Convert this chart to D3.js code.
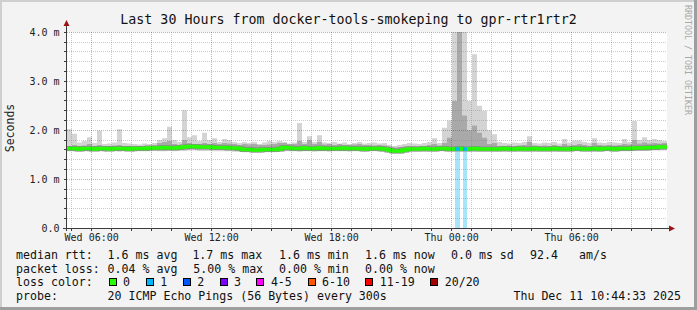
<!DOCTYPE html>
<html>
<head>
<meta charset="utf-8">
<script src="https://cdn.jsdelivr.net/npm/d3@7"></script>
<style>
  body { margin: 0; background: #f3f3f3; }
  svg { display: block; font-family: "DejaVu Sans Mono", monospace; }
</style>
</head>
<body>
<div id="chart"></div>
<script>
// --- data (ms), one value per 15 minutes ---
const startTime = Date.UTC(2025, 11, 10, 4, 46);
const endTime = Date.UTC(2025, 11, 11, 10, 46);
const stepMinutes = 15;

const medianRtt = [
  1.63,1.63,1.62,1.63,1.63,1.62,1.63,1.63,1.62,1.63,
  1.63,1.63,1.62,1.63,1.63,1.63,1.64,1.64,1.64,1.65,
  1.64,1.64,1.65,1.66,1.67,1.67,1.66,1.66,1.66,1.65,
  1.65,1.65,1.64,1.64,1.63,1.61,1.61,1.60,1.60,1.61,
  1.61,1.61,1.62,1.65,1.64,1.63,1.63,1.64,1.63,1.63,
  1.64,1.63,1.63,1.63,1.63,1.64,1.63,1.63,1.63,1.62,
  1.63,1.63,1.63,1.62,1.60,1.58,1.58,1.60,1.62,1.62,
  1.62,1.63,1.62,1.62,1.63,1.63,1.62,1.62,1.63,1.62,
  1.62,1.63,1.62,1.62,1.62,1.62,1.62,1.63,1.62,1.62,
  1.63,1.62,1.62,1.63,1.62,1.62,1.62,1.63,1.62,1.62,
  1.62,1.63,1.63,1.62,1.62,1.63,1.62,1.63,1.63,1.62,
  1.63,1.63,1.63,1.64,1.64,1.64,1.65,1.65,1.66,1.66
];

const smokeLow = [
  1.57,1.57,1.56,1.57,1.56,1.57,1.57,1.56,1.57,1.57,
  1.56,1.57,1.57,1.56,1.57,1.57,1.57,1.58,1.57,1.57,
  1.58,1.57,1.58,1.58,1.59,1.59,1.58,1.58,1.58,1.57,
  1.57,1.57,1.57,1.56,1.56,1.55,1.55,1.54,1.54,1.55,
  1.55,1.55,1.56,1.57,1.57,1.57,1.56,1.57,1.57,1.56,
  1.57,1.57,1.56,1.57,1.57,1.57,1.56,1.57,1.57,1.56,
  1.57,1.57,1.56,1.56,1.54,1.52,1.52,1.54,1.56,1.56,
  1.56,1.57,1.56,1.56,1.57,1.57,1.56,1.56,1.57,1.56,
  1.56,1.57,1.56,1.56,1.56,1.56,1.56,1.57,1.56,1.56,
  1.57,1.56,1.56,1.57,1.56,1.56,1.56,1.57,1.56,1.56,
  1.56,1.57,1.57,1.56,1.56,1.57,1.56,1.57,1.57,1.56,
  1.57,1.57,1.57,1.58,1.58,1.58,1.58,1.59,1.59,1.59
];

const smokeQ1 = [
  1.60,1.60,1.59,1.60,1.60,1.59,1.60,1.60,1.59,1.60,
  1.60,1.60,1.59,1.60,1.60,1.60,1.61,1.61,1.61,1.62,
  1.61,1.61,1.62,1.63,1.64,1.64,1.63,1.63,1.63,1.62,
  1.62,1.62,1.61,1.61,1.60,1.58,1.58,1.57,1.57,1.58,
  1.58,1.58,1.59,1.62,1.61,1.60,1.60,1.61,1.60,1.60,
  1.61,1.60,1.60,1.60,1.60,1.61,1.60,1.60,1.60,1.59,
  1.60,1.60,1.60,1.59,1.57,1.55,1.55,1.57,1.59,1.59,
  1.59,1.60,1.59,1.59,1.60,1.60,1.59,1.59,1.60,1.59,
  1.59,1.60,1.59,1.59,1.59,1.59,1.59,1.60,1.59,1.59,
  1.60,1.59,1.59,1.60,1.59,1.59,1.59,1.60,1.59,1.59,
  1.59,1.60,1.60,1.59,1.59,1.60,1.59,1.60,1.60,1.59,
  1.60,1.60,1.60,1.61,1.61,1.61,1.62,1.62,1.63,1.63
];

const smokeQ3 = [
  1.68,1.70,1.68,1.69,1.72,1.68,1.70,1.68,1.68,1.69,
  1.70,1.68,1.68,1.68,1.67,1.68,1.68,1.69,1.74,1.76,
  1.78,1.72,1.70,1.80,1.74,1.72,1.72,1.74,1.72,1.74,
  1.72,1.74,1.73,1.72,1.70,1.72,1.71,1.72,1.70,1.70,
  1.71,1.72,1.74,1.75,1.72,1.72,1.78,1.72,1.80,1.72,
  1.76,1.71,1.72,1.70,1.72,1.70,1.70,1.71,1.72,1.70,
  1.70,1.69,1.70,1.69,1.67,1.65,1.66,1.67,1.68,1.68,
  1.67,1.68,1.70,1.72,1.69,1.74,1.85,2.60,4.50,2.30,
  2.00,2.10,1.95,1.85,1.72,1.74,1.68,1.68,1.69,1.68,
  1.69,1.70,1.76,1.69,1.68,1.69,1.68,1.70,1.68,1.72,
  1.69,1.70,1.72,1.70,1.68,1.74,1.70,1.69,1.70,1.69,
  1.70,1.72,1.71,1.80,1.73,1.75,1.73,1.74,1.73,1.74
];

const smokeHigh = [
  2.02,1.93,1.75,1.78,1.86,1.74,1.99,1.72,1.73,1.75,
  2.02,1.74,1.73,1.72,1.71,1.73,1.72,1.74,1.80,1.84,
  2.07,1.80,1.76,2.41,1.86,1.90,1.78,1.95,1.80,1.84,
  1.76,1.82,1.80,1.76,1.74,1.76,1.74,1.76,1.72,1.75,
  1.78,1.76,1.78,1.74,1.73,1.75,2.15,1.76,1.88,1.76,
  1.90,1.75,1.74,1.76,1.73,1.75,1.72,1.74,1.76,1.73,
  1.74,1.75,1.73,1.74,1.70,1.68,1.70,1.72,1.74,1.73,
  1.72,1.74,1.76,1.84,1.74,2.05,2.20,4.50,4.50,4.50,
  2.60,3.55,2.50,2.40,2.00,1.92,1.76,1.74,1.73,1.75,
  1.74,1.76,1.88,1.74,1.73,1.75,1.74,1.76,1.73,1.82,
  1.75,1.79,1.79,1.76,1.74,1.84,1.75,1.74,1.76,1.75,
  1.74,1.82,1.76,2.19,1.80,1.86,1.80,1.82,1.80,1.78
];

// periods with lost pings (number of pings lost out of 20)
const lossEvents = [
  { from: "2025-12-11T00:10:00Z", to: "2025-12-11T00:25:00Z", lost: 1 },
  { from: "2025-12-11T00:34:00Z", to: "2025-12-11T00:46:00Z", lost: 1 }
];

const yTickValues = [0, 1, 2, 3, 4];

const lossColorLabels = ["0", "1", "2", "3", "4-5", "6-10", "11-19", "20/20"];
const lossColorValues = ["#26ff00", "#00b8ff", "#0059ff", "#7e00ff", "#ff00ff", "#ff5500", "#ff0000", "#a10000"];

const titleText = "Last 30 Hours from docker-tools-smokeping to gpr-rtr1rtr2";
const rttStats = ["1.6 ms avg", "1.7 ms max", "1.6 ms min", "1.6 ms now", "0.0 ms sd", "92.4", "am/s"];
const lossStats = ["0.04 % avg", "5.00 % max", "0.00 % min", "0.00 % now"];
const probeText = "20 ICMP Echo Pings (56 Bytes) every 300s";
const stampText = "Thu Dec 11 10:44:33 2025";

// --- layout ---
const width = 697, height = 310;
const plot = { left: 67, right: 667, top: 32.3, bottom: 228.3 };

const svg = d3.select("#chart").append("svg")
    .attr("width", width)
    .attr("height", height);

// fondo y bordes
svg.append("rect").attr("width", width).attr("height", height).attr("fill", "#f3f3f3");
svg.append("rect").attr("x", 0).attr("y", 0).attr("width", width).attr("height", 2).attr("fill", "#cfcfcf");
svg.append("rect").attr("x", 0).attr("y", 0).attr("width", 2).attr("height", height).attr("fill", "#cfcfcf");
svg.append("rect").attr("x", 0).attr("y", height - 3).attr("width", width).attr("height", 3).attr("fill", "#9e9e9e");
svg.append("rect").attr("x", width - 3).attr("y", 0).attr("width", 3).attr("height", height).attr("fill", "#9e9e9e");

const x = d3.scaleUtc()
    .domain([new Date(startTime), new Date(endTime)])
    .range([plot.left, plot.right]);

const y = d3.scaleLinear()
    .domain([0, 4])
    .range([plot.bottom, plot.top]);

const px = v => Math.floor(v) + 0.5;

// canvas
svg.append("rect")
    .attr("x", plot.left).attr("y", plot.top)
    .attr("width", plot.right - plot.left).attr("height", plot.bottom - plot.top)
    .attr("fill", "#ffffff");

svg.append("clipPath").attr("id", "plotclip")
  .append("rect")
    .attr("x", plot.left).attr("y", Math.floor(plot.top))
    .attr("width", plot.right - plot.left).attr("height", plot.bottom - Math.floor(plot.top));

// filas de datos
const rows = medianRtt.map((m, i) => ({
    t: new Date(startTime + i * stepMinutes * 60000),
    med: m, lo: smokeLow[i], q1: smokeQ1[i], q3: smokeQ3[i], hi: smokeHigh[i]
}));
rows.push(Object.assign({}, rows[rows.length - 1], { t: new Date(endTime) }));

const g = svg.append("g").attr("clip-path", "url(#plotclip)");

const band = (a, b) => d3.area()
    .x(d => x(d.t))
    .y0(d => y(d[a]))
    .y1(d => y(d[b]))
    .curve(d3.curveStepAfter);

g.append("path").datum(rows).attr("d", band("lo", "hi")).attr("fill", "#d4d4d4");
g.append("path").datum(rows).attr("d", band("q1", "q3")).attr("fill", "#a9a9a9");

// barras de pérdida
const medianAt = t => rows[Math.min(medianRtt.length - 1, Math.floor((t - startTime) / (stepMinutes * 60000)))].med;
g.selectAll("rect.loss")
    .data(lossEvents)
    .join("rect")
    .attr("class", "loss")
    .attr("x", d => x(new Date(d.from)))
    .attr("width", d => x(new Date(d.to)) - x(new Date(d.from)))
    .attr("y", d => y(medianAt(Date.parse(d.from))))
    .attr("height", d => y(0) - y(medianAt(Date.parse(d.from))))
    .attr("fill", "#a8e4fa");

// rejilla
const grid = svg.append("g");
const yMinor = d3.range(0, 4.001, 0.2).filter(v => Math.abs(v - Math.round(v)) > 0.01);
grid.selectAll("line.ymin").data(yMinor).join("line")
    .attr("x1", plot.left).attr("x2", plot.right)
    .attr("y1", d => px(y(d))).attr("y2", d => px(y(d)))
    .attr("stroke", "rgba(128,128,128,0.4)").attr("stroke-dasharray", "1,1");
grid.selectAll("line.ymaj").data(yTickValues.filter(v => v > 0)).join("line")
    .attr("x1", plot.left).attr("x2", plot.right)
    .attr("y1", d => px(y(d))).attr("y2", d => px(y(d)))
    .attr("stroke", "rgba(220,0,0,0.38)").attr("stroke-dasharray", "1,1");

const hours = x.ticks(d3.utcHour.every(1));
grid.selectAll("line.xg").data(hours).join("line")
    .attr("x1", d => px(x(d))).attr("x2", d => px(x(d)))
    .attr("y1", Math.floor(plot.top)).attr("y2", plot.bottom)
    .attr("stroke", d => d.getUTCHours() % 3 === 0 ? "rgba(220,0,0,0.38)" : "rgba(128,128,128,0.4)")
    .attr("stroke-dasharray", "1,1");

// mediana
const medLine = d3.line().x(d => x(d.t)).y(d => y(d.med)).curve(d3.curveStepAfter);
g.append("path").datum(rows).attr("d", medLine)
    .attr("fill", "none").attr("stroke", "#8c8c8c").attr("stroke-width", 5);
g.append("path").datum(rows).attr("d", medLine)
    .attr("fill", "none").attr("stroke", lossColorValues[0]).attr("stroke-width", 3.5);
g.selectAll("line.lossmed").data(lossEvents).join("line")
    .attr("x1", d => x(new Date(d.from))).attr("x2", d => x(new Date(d.to)))
    .attr("y1", d => y(medianAt(Date.parse(d.from)))).attr("y2", d => y(medianAt(Date.parse(d.from))))
    .attr("stroke", d => lossColorValues[d.lost]).attr("stroke-width", 3.5);

// ejes
const axisColor = "#3c3c3c", arrowColor = "#9b1414";
svg.append("line").attr("x1", 63).attr("x2", 670).attr("y1", px(plot.bottom)).attr("y2", px(plot.bottom))
    .attr("stroke", axisColor);
svg.append("line").attr("x1", 66.5).attr("x2", 66.5).attr("y1", 231).attr("y2", 25)
    .attr("stroke", axisColor);
svg.append("path").attr("d", "M669,225.5L675,228.5L669,231.5Z").attr("fill", arrowColor);
svg.append("path").attr("d", "M63.5,26L66.5,20L69.5,26Z").attr("fill", arrowColor);

// marcas
svg.selectAll("line.ytick").data(d3.range(0, 4.001, 0.2)).join("line")
    .attr("x1", 64).attr("x2", 66)
    .attr("y1", d => px(y(d))).attr("y2", d => px(y(d)))
    .attr("stroke", axisColor);
svg.selectAll("line.xtick").data(hours).join("line")
    .attr("x1", d => px(x(d))).attr("x2", d => px(x(d)))
    .attr("y1", 229).attr("y2", 231)
    .attr("stroke", axisColor);

// etiquetas de ejes
svg.selectAll("text.ylab").data(yTickValues).join("text")
    .attr("x", 59.5).attr("y", d => y(d) + 3.6)
    .attr("text-anchor", "end").attr("font-size", "10px").attr("fill", "#222")
    .text(d => d === 0 ? "0.0" : d3.format(".1f")(d) + " m");

const fmt = d3.utcFormat("%a %H:%M");
svg.selectAll("text.xlab").data(hours.filter(d => d.getUTCHours() % 6 === 0)).join("text")
    .attr("x", d => x(d)).attr("y", 241)
    .attr("text-anchor", "middle").attr("font-size", "10px").attr("fill", "#222")
    .text(d => fmt(d));

svg.append("text")
    .attr("transform", "translate(14,128) rotate(-90)")
    .attr("text-anchor", "middle").attr("font-size", "11.5px").attr("fill", "#222")
    .text("Seconds");

// título
svg.append("text")
    .attr("x", 348.5).attr("y", 23.5)
    .attr("text-anchor", "middle").attr("font-size", "13.3px").attr("fill", "#111")
    .text(titleText);

// marca de agua
svg.append("text")
    .attr("transform", "translate(685,60) rotate(90)")
    .attr("text-anchor", "middle").attr("font-size", "8.3px").attr("fill", "#a8a8a8")
    .text("RRDTOOL / TOBI OETIKER");

// leyenda
const legend = svg.append("g").attr("font-size", "11.6px").attr("fill", "#111");
const rowY = [259, 272.5, 286, 299.5];
const rttX = [107.6, 192.4, 279, 365, 451, 530, 579];
const lossX = [107.6, 193.3, 279, 365];

legend.append("text").attr("x", 16).attr("y", rowY[0]).text("median rtt:");
legend.selectAll("text.rtt").data(rttStats).join("text")
    .attr("x", (d, i) => rttX[i]).attr("y", rowY[0]).text(d => d);

legend.append("text").attr("x", 16).attr("y", rowY[1]).text("packet loss:");
legend.selectAll("text.loss").data(lossStats).join("text")
    .attr("x", (d, i) => lossX[i]).attr("y", rowY[1]).text(d => d);

legend.append("text").attr("x", 16).attr("y", rowY[2]).text("loss color:");
const boxX = [108.5, 145.8, 182.7, 219.6, 256.4, 307.6, 365.3, 430.2];
const swatch = legend.selectAll("g.sw").data(lossColorLabels).join("g");
swatch.append("rect")
    .attr("x", (d, i) => Math.round(boxX[i]) + 0.5).attr("y", 278.5)
    .attr("width", 7).attr("height", 7)
    .attr("fill", (d, i) => lossColorValues[i]).attr("stroke", "#000");
swatch.append("text")
    .attr("x", (d, i) => boxX[i] + 14.5).attr("y", rowY[2]).text(d => d);

legend.append("text").attr("x", 16).attr("y", rowY[3]).text("probe:");
legend.append("text").attr("x", 107.6).attr("y", rowY[3]).text(probeText);
legend.append("text").attr("x", 681).attr("y", rowY[3]).attr("text-anchor", "end").text(stampText);
</script>
</body>
</html>
